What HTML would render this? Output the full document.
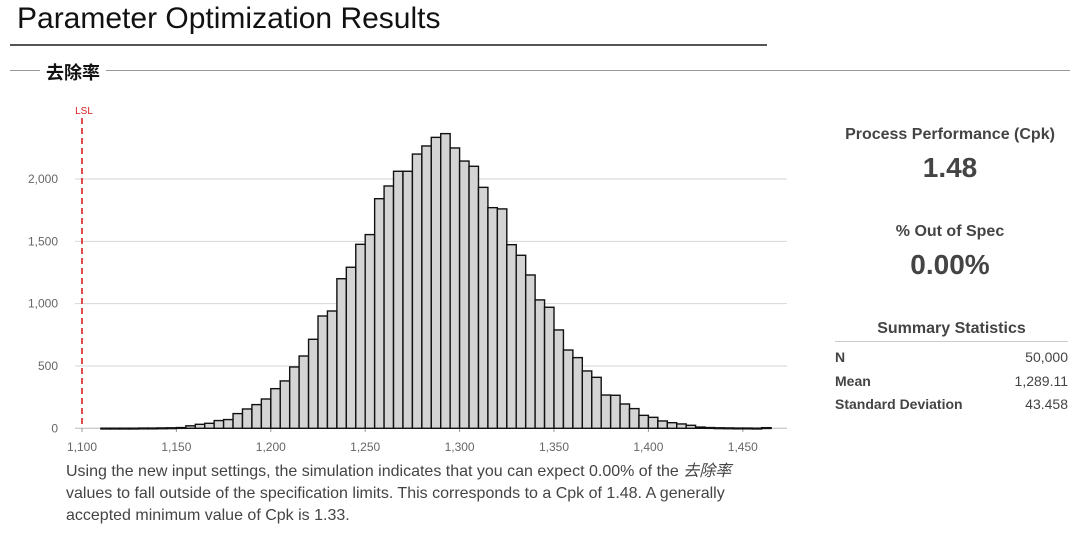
<!DOCTYPE html>
<html><head><meta charset="utf-8"><style>
body{margin:0;width:1080px;height:535px;background:#fff;font-family:"Liberation Sans","Noto Sans CJK SC",sans-serif;position:relative;overflow:hidden}
.a{position:absolute;white-space:nowrap}
</style></head><body>
<div class="a" style="left:17px;top:2px;font-size:30px;color:#111">Parameter Optimization Results</div>
<div class="a" style="left:10px;top:44px;width:757px;height:2px;background:#555"></div>
<div class="a" style="left:10px;top:70px;width:1060px;height:1px;background:#999"></div>
<div class="a" style="left:40px;top:59px;padding:0 6px;background:#fff;font-size:18px;font-weight:bold;color:#111">去除率</div>
<svg class="a" style="left:0;top:0" width="800" height="460" id="chart"></svg>
<div class="a" style="left:66px;top:461px;font-size:16px;line-height:22px;color:#444">Using the new input settings, the simulation indicates that you can expect 0.00% of the <i>去除率</i><br>values to fall outside of the specification limits. This corresponds to a Cpk of 1.48. A generally<br>accepted minimum value of Cpk is 1.33.</div>
<div class="a" style="left:830px;top:126px;width:240px;text-align:center;font-size:16px;font-weight:bold;color:#444">Process Performance (Cpk)</div>
<div class="a" style="left:830px;top:152px;width:240px;text-align:center;font-size:28px;font-weight:bold;color:#444">1.48</div>
<div class="a" style="left:830px;top:223px;width:240px;text-align:center;font-size:16px;font-weight:bold;color:#444">% Out of Spec</div>
<div class="a" style="left:830px;top:249px;width:240px;text-align:center;font-size:28px;font-weight:bold;color:#444">0.00%</div>
<div class="a" style="left:835px;top:320px;width:233px;text-align:center;font-size:16px;font-weight:bold;color:#444">Summary Statistics</div>
<div class="a" style="left:835px;top:341px;width:233px;height:1px;background:#ccc"></div>
<div class="a" style="left:835px;top:346px;width:233px;font-size:14px;color:#444;line-height:23.5px">
<div style="display:flex;justify-content:space-between"><b>N</b><span>50,000</span></div>
<div style="display:flex;justify-content:space-between"><b>Mean</b><span>1,289.11</span></div>
<div style="display:flex;justify-content:space-between"><b>Standard Deviation</b><span>43.458</span></div>
</div>
<script>
const binStarts=[1110,1115,1120,1125,1130,1135,1140,1145,1150,1155,1160,1165,1170,1175,1180,1185,1190,1195,1200,1205,1210,1215,1220,1225,1230,1235,1240,1245,1250,1255,1260,1265,1270,1275,1280,1285,1290,1295,1300,1305,1310,1315,1320,1325,1330,1335,1340,1345,1350,1355,1360,1365,1370,1375,1380,1385,1390,1395,1400,1405,1410,1415,1420,1425,1430,1435,1440,1445,1450,1455,1460];
const counts=[1,1,1,1,2,2,3,4,6,20,32,40,62,70,118,155,190,235,318,380,492,580,714,901,941,1200,1292,1476,1554,1842,1944,2062,2062,2200,2265,2334,2364,2249,2144,2102,1933,1770,1760,1473,1388,1230,1030,971,789,628,567,460,409,267,265,195,158,104,88,59,45,35,24,10,6,4,3,2,2,1,5];
const yTicks=[0,500,1000,1500,2000];
const xTicks=[1100,1150,1200,1250,1300,1350,1400,1450];
const binWidth=5, lsl=1100;
const NS="http://www.w3.org/2000/svg";
const svg=document.getElementById('chart');
const X=v=>82+(v-1100)*1.888;
const Y=v=>428.3-v*0.12465;
function mk(t,a){const e=document.createElementNS(NS,t);for(const k in a)e.setAttribute(k,a[k]);svg.appendChild(e);return e;}
yTicks.forEach(t=>{
  const g=mk('line',{x1:75,x2:787,y1:Y(t),y2:Y(t),stroke:t?'#d6d6d6':'#bbb','stroke-width':1});
  
  
  const l=mk('text',{x:58,y:Y(t)+4,'text-anchor':'end','font-size':12,fill:'#666','font-family':'Liberation Sans'});
  l.textContent=t.toLocaleString('en-US');
  
  
});
xTicks.forEach(t=>{
  const k=mk('line',{x1:X(t),x2:X(t),y1:428,y2:432,stroke:'#999'});
  
  
  const l=mk('text',{x:X(t),y:451,'text-anchor':'middle','font-size':12,fill:'#666','font-family':'Liberation Sans'});
  l.textContent=t.toLocaleString('en-US');
  
  
});
binStarts.forEach((b,i)=>{
  const x0=X(b),x1=X(b+binWidth),y=Y(counts[i]);
  const r=mk('rect',{x:x0,y:y,width:x1-x0,height:Math.max(428.3-y,0.8),fill:'#d4d4d4',stroke:'#111','stroke-width':1.4});
  
  
});
const ln=mk('line',{x1:X(lsl),x2:X(lsl),y1:118,y2:428,stroke:'#d62020','stroke-width':1.6,'stroke-dasharray':'6,4'});


const lt=mk('text',{x:X(lsl)+2,y:114,'text-anchor':'middle','font-size':10,fill:'#d62020','font-family':'Liberation Sans'});
lt.textContent='LSL';


</script>
</body></html>
